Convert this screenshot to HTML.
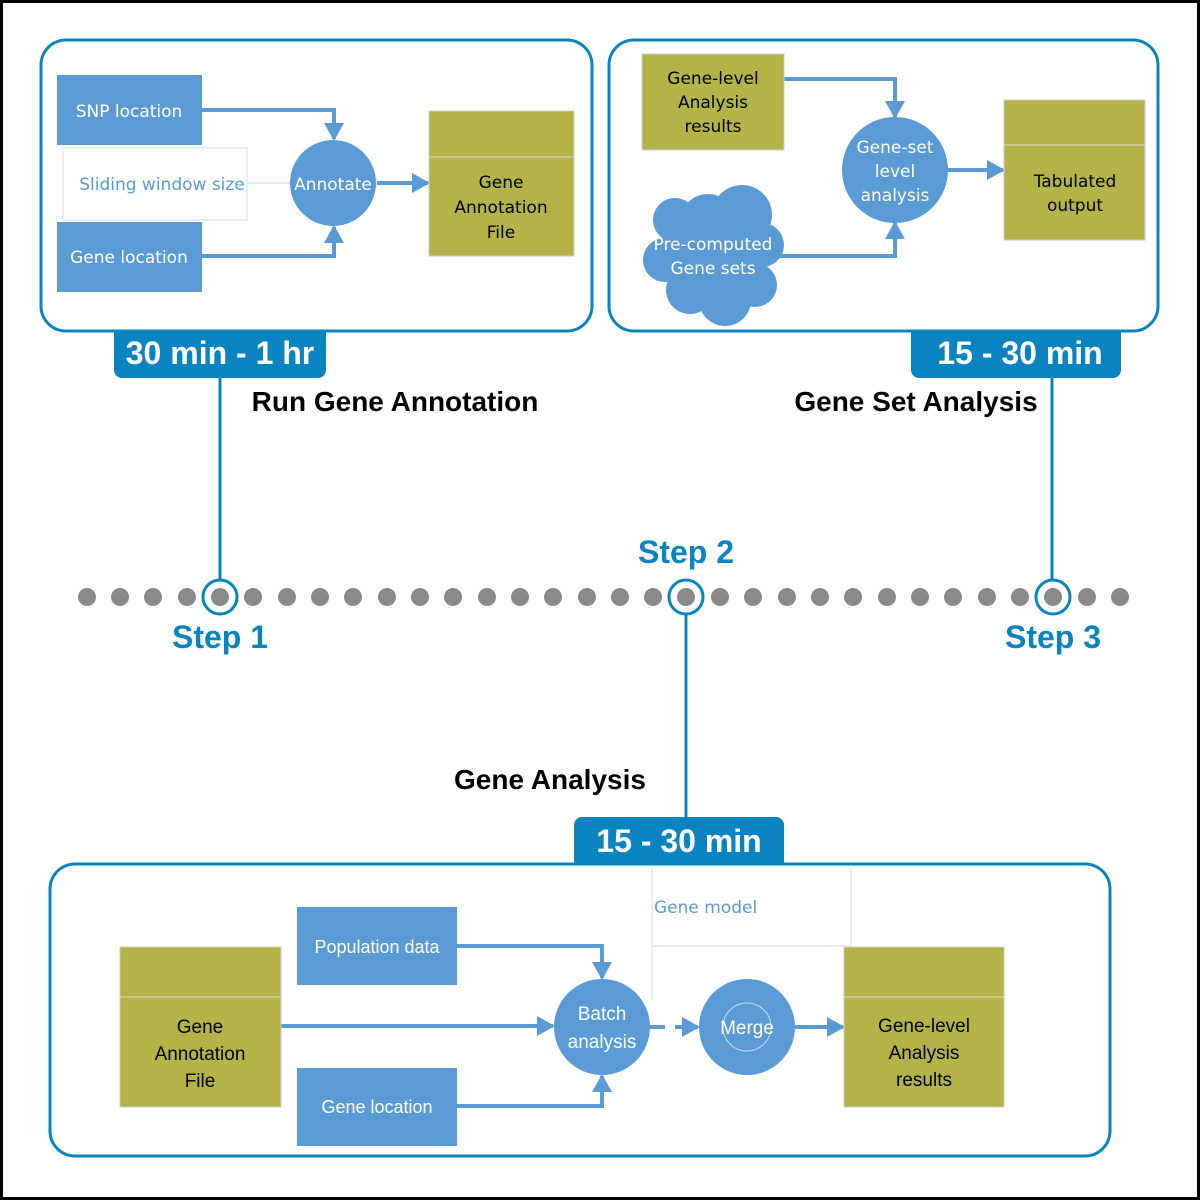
<!DOCTYPE html>
<html><head><meta charset="utf-8"><style>
html,body{margin:0;padding:0;background:#fff}
svg{display:block}
text{font-family:"Liberation Sans",sans-serif}
.s{font-family:"DejaVu Sans","Liberation Sans",sans-serif;font-size:17px}
</style></head><body>
<svg width="1200" height="1200" viewBox="0 0 1200 1200" xmlns="http://www.w3.org/2000/svg">
<defs>
<marker id="a" markerWidth="18" markerHeight="20" refX="16" refY="10" orient="auto" markerUnits="userSpaceOnUse" viewBox="0 0 18 20"><path d="M0,0 L18,10 L0,20 z" fill="#5b9bd5"/></marker>
</defs>
<rect x="1.5" y="1.5" width="1197" height="1197" fill="#fff" stroke="#000" stroke-width="3"/>

<!-- containers -->
<rect x="41" y="40" width="551" height="291" rx="25" fill="#fff" stroke="#0a84c0" stroke-width="3"/>
<rect x="609" y="40" width="549" height="291" rx="25" fill="#fff" stroke="#0a84c0" stroke-width="3"/>
<rect x="50" y="864" width="1060" height="292" rx="25" fill="#fff" stroke="#0a84c0" stroke-width="3"/>

<!-- tabs -->
<path d="M114,331 H326 V370 a8,8 0 0 1 -8,8 H122 a8,8 0 0 1 -8,-8 Z" fill="#0a84c0"/>
<text x="220" y="364" text-anchor="middle" font-size="32" font-weight="bold" fill="#fff">30 min - 1 hr</text>
<path d="M911,331 H1121 V370 a8,8 0 0 1 -8,8 H919 a8,8 0 0 1 -8,-8 Z" fill="#0a84c0"/>
<text x="1020" y="364" text-anchor="middle" font-size="32" font-weight="bold" fill="#fff">15 - 30 min</text>
<path d="M574,863 H784 V825 a8,8 0 0 0 -8,-8 H582 a8,8 0 0 0 -8,8 Z" fill="#0a84c0"/>
<text x="679" y="852" text-anchor="middle" font-size="32" font-weight="bold" fill="#fff">15 - 30 min</text>

<text x="395" y="411" text-anchor="middle" font-size="28" font-weight="bold" fill="#000">Run Gene Annotation</text>
<text x="916" y="411" text-anchor="middle" font-size="28" font-weight="bold" fill="#000">Gene Set Analysis</text>
<text x="550" y="789" text-anchor="middle" font-size="28" font-weight="bold" fill="#000">Gene Analysis</text>

<!-- timeline -->
<g fill="#8a8a8a">
<circle cx="87" cy="597" r="9"/><circle cx="120" cy="597" r="9"/><circle cx="153" cy="597" r="9"/><circle cx="187" cy="597" r="9"/><circle cx="220" cy="597" r="9"/><circle cx="253" cy="597" r="9"/><circle cx="287" cy="597" r="9"/><circle cx="320" cy="597" r="9"/><circle cx="353" cy="597" r="9"/><circle cx="387" cy="597" r="9"/><circle cx="420" cy="597" r="9"/><circle cx="453" cy="597" r="9"/><circle cx="487" cy="597" r="9"/><circle cx="520" cy="597" r="9"/><circle cx="553" cy="597" r="9"/><circle cx="587" cy="597" r="9"/><circle cx="620" cy="597" r="9"/><circle cx="653" cy="597" r="9"/><circle cx="686" cy="597" r="9"/><circle cx="720" cy="597" r="9"/><circle cx="753" cy="597" r="9"/><circle cx="787" cy="597" r="9"/><circle cx="820" cy="597" r="9"/><circle cx="853" cy="597" r="9"/><circle cx="887" cy="597" r="9"/><circle cx="920" cy="597" r="9"/><circle cx="953" cy="597" r="9"/><circle cx="987" cy="597" r="9"/><circle cx="1020" cy="597" r="9"/><circle cx="1053" cy="597" r="9"/><circle cx="1087" cy="597" r="9"/><circle cx="1120" cy="597" r="9"/>
</g>
<g fill="none" stroke="#0a84c0" stroke-width="3">
<line x1="220" y1="378" x2="220" y2="580"/><circle cx="220" cy="597" r="17"/>
<line x1="1052" y1="378" x2="1052" y2="580"/><circle cx="1053" cy="597" r="17"/>
<line x1="686" y1="614" x2="686" y2="817"/><circle cx="686" cy="597" r="17"/>
</g>
<text x="220" y="648" text-anchor="middle" font-size="32" font-weight="bold" fill="#0a84c0">Step 1</text>
<text x="686" y="563" text-anchor="middle" font-size="32" font-weight="bold" fill="#0a84c0">Step 2</text>
<text x="1053" y="648" text-anchor="middle" font-size="32" font-weight="bold" fill="#0a84c0">Step 3</text>

<!-- top-left content -->
<g stroke="#5b9bd5" stroke-width="4" fill="none">
<path d="M202,110 H334 V139" marker-end="url(#a)"/>
<path d="M202,256 H334 V227" marker-end="url(#a)"/>
<path d="M377,183 H428" marker-end="url(#a)"/>
</g>
<line x1="247" y1="183" x2="292" y2="183" stroke="#dde8f4" stroke-width="2"/>
<rect x="57" y="75" width="145" height="70" fill="#5b9bd5"/>
<text x="129" y="117" text-anchor="middle" class="s" fill="#fff">SNP location</text>
<rect x="63" y="148" width="184" height="72" fill="#fff" stroke="#e6eef7" stroke-width="2"/>
<text x="162" y="190" text-anchor="middle" class="s" fill="#5b9bd5">Sliding window size</text>
<rect x="57" y="222" width="145" height="70" fill="#5b9bd5"/>
<text x="129" y="263" text-anchor="middle" class="s" fill="#fff">Gene location</text>
<circle cx="333" cy="183" r="43" fill="#5b9bd5"/>
<text x="333" y="190" text-anchor="middle" class="s" fill="#fff">Annotate</text>
<rect x="429" y="111" width="145" height="145" fill="#b3b347" stroke="#ccc" stroke-width="1"/>
<line x1="429" y1="157" x2="574" y2="157" stroke="#d0d0a0" stroke-width="1.5"/>
<text text-anchor="middle" class="s" fill="#000"><tspan x="501" y="188">Gene</tspan><tspan x="501" y="213">Annotation</tspan><tspan x="501" y="238">File</tspan></text>

<!-- top-right content -->
<g stroke="#5b9bd5" stroke-width="4" fill="none">
<path d="M784,79 H895 V117" marker-end="url(#a)"/>
<path d="M770,256 H895 V223" marker-end="url(#a)"/>
<path d="M948,170 H1003" marker-end="url(#a)"/>
</g>
<rect x="642" y="54" width="142" height="96" fill="#b3b347" stroke="#ccc" stroke-width="1"/>
<text text-anchor="middle" class="s" fill="#000"><tspan x="713" y="84">Gene-level</tspan><tspan x="713" y="108">Analysis</tspan><tspan x="713" y="132">results</tspan></text>
<circle cx="895" cy="170" r="53" fill="#5b9bd5"/>
<text text-anchor="middle" class="s" fill="#fff"><tspan x="895" y="153">Gene-set</tspan><tspan x="895" y="177">level</tspan><tspan x="895" y="201">analysis</tspan></text>
<rect x="1004" y="100" width="141" height="140" fill="#b3b347" stroke="#ccc" stroke-width="1"/>
<line x1="1004" y1="145" x2="1145" y2="145" stroke="#d0d0a0" stroke-width="1.5"/>
<text text-anchor="middle" class="s" fill="#000"><tspan x="1075" y="187">Tabulated</tspan><tspan x="1075" y="211">output</tspan></text>
<g fill="#5b9bd5">
<circle cx="708" cy="222" r="28"/><circle cx="742" cy="215" r="30"/><circle cx="762" cy="245" r="22"/><circle cx="675" cy="220" r="22"/><circle cx="665" cy="260" r="22"/><circle cx="690" cy="290" r="24"/><circle cx="725" cy="300" r="26"/><circle cx="755" cy="285" r="22"/><circle cx="712" cy="256" r="40"/>
</g>
<text text-anchor="middle" class="s" fill="#fff"><tspan x="713" y="250">Pre-computed</tspan><tspan x="713" y="274">Gene sets</tspan></text>

<!-- bottom content -->
<line x1="652" y1="868" x2="652" y2="1000" stroke="#e6eef7" stroke-width="2"/>
<line x1="851" y1="868" x2="851" y2="946" stroke="#e6eef7" stroke-width="2"/>
<line x1="652" y1="946" x2="851" y2="946" stroke="#e6eef7" stroke-width="2"/>
<text x="654" y="913" class="s" fill="#5b9bd5">Gene model</text>
<g stroke="#5b9bd5" stroke-width="4" fill="none">
<path d="M457,946 H602 V978" marker-end="url(#a)"/>
<path d="M457,1106 H602 V1076" marker-end="url(#a)"/>
<path d="M281,1026 H553" marker-end="url(#a)"/>
<path d="M650,1027 H665 M675,1027 H698" marker-end="url(#a)"/>
<path d="M795,1027 H843" marker-end="url(#a)"/>
</g>
<rect x="120" y="947" width="161" height="160" fill="#b3b347" stroke="#ccc" stroke-width="1"/>
<line x1="120" y1="997" x2="281" y2="997" stroke="#d0d0a0" stroke-width="1.5"/>
<text text-anchor="middle" font-family="DejaVu Sans" font-size="19" fill="#000"><tspan x="200" y="1033">Gene</tspan><tspan x="200" y="1060">Annotation</tspan><tspan x="200" y="1087">File</tspan></text>
<rect x="297" y="907" width="160" height="78" fill="#5b9bd5"/>
<text x="377" y="953" text-anchor="middle" font-family="DejaVu Sans" font-size="18" fill="#fff">Population data</text>
<rect x="297" y="1068" width="160" height="78" fill="#5b9bd5"/>
<text x="377" y="1113" text-anchor="middle" font-family="DejaVu Sans" font-size="18" fill="#fff">Gene location</text>
<circle cx="602" cy="1027" r="48" fill="#5b9bd5"/>
<text text-anchor="middle" font-family="DejaVu Sans" font-size="19" fill="#fff"><tspan x="602" y="1020">Batch</tspan><tspan x="602" y="1048">analysis</tspan></text>
<circle cx="747" cy="1027" r="48" fill="#5b9bd5"/>
<circle cx="747" cy="1027" r="24" fill="none" stroke="#c8d8ea" stroke-width="1"/>
<text x="747" y="1034" text-anchor="middle" font-family="DejaVu Sans" font-size="19" fill="#fff">Merge</text>
<rect x="844" y="947" width="160" height="160" fill="#b3b347" stroke="#ccc" stroke-width="1"/>
<line x1="844" y1="997" x2="1004" y2="997" stroke="#d0d0a0" stroke-width="1.5"/>
<text text-anchor="middle" font-family="DejaVu Sans" font-size="19" fill="#000"><tspan x="924" y="1032">Gene-level</tspan><tspan x="924" y="1059">Analysis</tspan><tspan x="924" y="1086">results</tspan></text>
</svg>
</body></html>
